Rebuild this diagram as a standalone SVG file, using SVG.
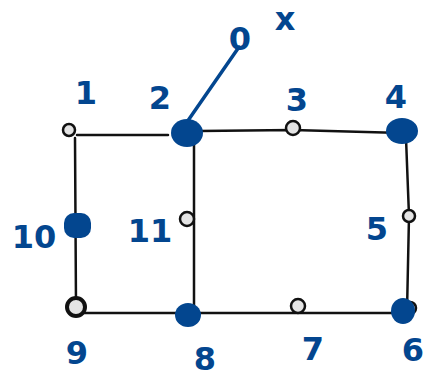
<svg xmlns="http://www.w3.org/2000/svg" width="425" height="379" viewBox="0 0 425 379">
<style>
.e{stroke:#111;stroke-width:2.5;fill:none;stroke-linecap:round}
.s{fill:#e4e4e4;stroke:#111;stroke-width:2.5}
.b{fill:#03468f}
.t{fill:#03468f;font-family:"DejaVu Sans","Liberation Sans",sans-serif;font-size:32px;font-weight:bold;text-anchor:middle}
</style>
<rect width="425" height="379" fill="#fff"/>
<g id="connectors">
<path class="e" d="M77 135 L168 135"/>
<path class="e" d="M200 131 L293 130 L402 133"/>
<path class="e" d="M75 138 L76 307"/>
<path class="e" d="M194 138 L194 314"/>
<path class="e" d="M406 138 L409 216 L407 312"/>
<path class="e" d="M76 313 L403 313"/>
<path d="M187 122 L239 47" stroke="#03468f" stroke-width="3.5" fill="none" stroke-linecap="round"/>
</g>
<g id="n1"><circle class="s" cx="69" cy="130" r="6"/><text class="t" x="86" y="104">1</text></g>
<g id="n2"><ellipse class="b" cx="187" cy="133" rx="16" ry="14"/><text class="t" x="160" y="109">2</text></g>
<g id="n3"><circle class="s" cx="293" cy="128" r="7"/><text class="t" x="297" y="111">3</text></g>
<g id="n4"><ellipse class="b" cx="402" cy="131" rx="16" ry="13"/><text class="t" x="396" y="108">4</text></g>
<g id="n5"><circle class="s" cx="409" cy="216" r="6"/><text class="t" x="377" y="240">5</text></g>
<g id="n6"><circle class="s" cx="410" cy="308" r="6"/><ellipse class="b" cx="403" cy="311" rx="12" ry="13"/><text class="t" x="413" y="361" font-size="28">6</text></g>
<g id="n7"><circle class="s" cx="298" cy="306" r="7"/><text class="t" x="313" y="360">7</text></g>
<g id="n8"><ellipse class="b" cx="188" cy="315" rx="13" ry="12"/><text class="t" x="205" y="370">8</text></g>
<g id="n9"><circle cx="76" cy="307" r="9" fill="#e4e4e4" stroke="#111" stroke-width="4"/><text class="t" x="77" y="364">9</text></g>
<g id="n10"><rect class="b" x="64" y="213" width="27" height="25" rx="10"/><text class="t" x="34" y="248">10</text></g>
<g id="n11"><circle class="s" cx="187" cy="219" r="7"/><text class="t" x="150" y="242">11</text></g>
<g id="n0"><text class="t" x="240" y="50">0</text><text class="t" x="285" y="30">x</text></g>
</svg>
